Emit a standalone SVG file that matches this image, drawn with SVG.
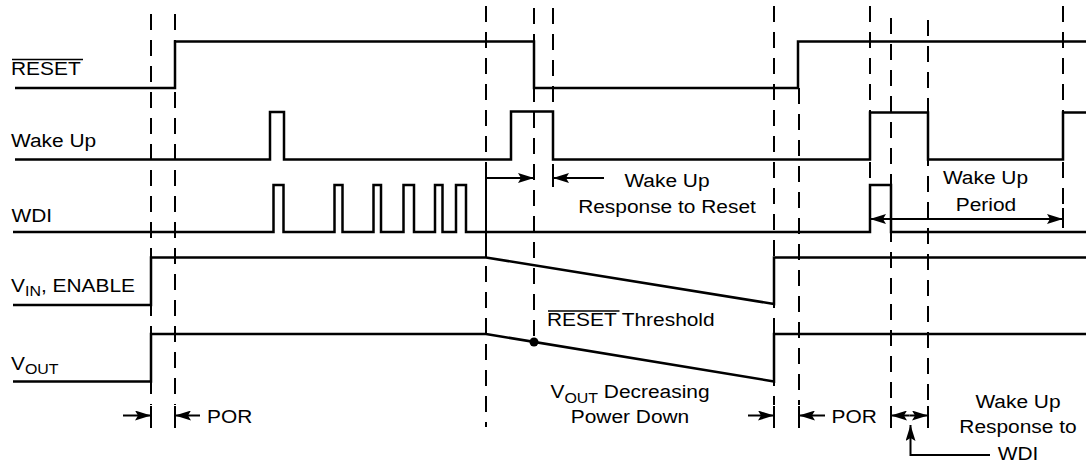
<svg xmlns="http://www.w3.org/2000/svg" width="1086" height="463" viewBox="0 0 1086 463">
<defs>
<marker id="ah" markerUnits="userSpaceOnUse" markerWidth="16" markerHeight="10" refX="16" refY="5" orient="auto-start-reverse"><path d="M0,0 L16,5 L0,10 L3,5 z" fill="#000"/></marker>
</defs>
<style>
.sig{fill:none;stroke:#000;stroke-width:2.5;stroke-linejoin:miter}
.dash{stroke:#000;stroke-width:2;stroke-dasharray:16 10}
.tick{stroke:#000;stroke-width:2}
.arr{fill:none;stroke:#000;stroke-width:2;marker-end:url(#ah)}
.arr2{fill:none;stroke:#000;stroke-width:2;marker-end:url(#ah);marker-start:url(#ah)}
.lbl{font-family:"Liberation Sans",Arial,Helvetica,sans-serif;font-size:19px;fill:#000}
.mid{text-anchor:middle}
.ov{stroke:#000;stroke-width:1.3}
</style>
<rect width="1086" height="463" fill="#fff"/>

<g id="guides">
<line class="dash" x1="151" y1="14" x2="151" y2="405"/>
<line class="dash" x1="175" y1="14" x2="175" y2="405"/>
<line class="dash" x1="486" y1="6" x2="486" y2="427"/>
<line class="dash" x1="534" y1="8" x2="534" y2="338"/>
<line class="dash" x1="553" y1="8" x2="553" y2="170"/>
<line class="dash" x1="774" y1="6" x2="774" y2="405"/>
<line class="dash" x1="799" y1="88" x2="799" y2="405"/>
<line class="dash" x1="870" y1="6" x2="870" y2="232"/>
<line class="dash" x1="891" y1="18" x2="891" y2="405"/>
<line class="dash" x1="928" y1="20" x2="928" y2="405"/>
<line class="dash" x1="1063" y1="6" x2="1063" y2="210"/>
<line class="tick" x1="151" y1="406" x2="151" y2="428"/>
<line class="tick" x1="175" y1="406" x2="175" y2="428"/>
<line class="tick" x1="774" y1="406" x2="774" y2="428"/>
<line class="tick" x1="799" y1="406" x2="799" y2="428"/>
<line class="tick" x1="891" y1="406" x2="891" y2="428"/>
<line class="tick" x1="928" y1="406" x2="928" y2="428"/>
<line class="tick" x1="553" y1="168" x2="553" y2="187"/>
<line class="tick" x1="1063" y1="208" x2="1063" y2="228"/>
</g>

<g id="sig-reset">
<path class="sig" d="M15,88 H175 V41.5 H534 V88 H798 V41.5 H1086"/>
<text class="lbl" transform="translate(11 75) scale(1.1 1)">RESET</text>
<line class="ov" x1="12" y1="59.5" x2="83" y2="59.5"/>
</g>

<g id="sig-wakeup">
<path class="sig" d="M15,159.5 H270 V112 H284 V159.5 H511 V111.5 H553 V159.5 H870 V112.5 H928 V159.5 H1063 V112.5 H1086"/>
<text class="lbl" transform="translate(11 146.5) scale(1.1 1)">Wake Up</text>
</g>

<g id="sig-wdi">
<path class="sig" d="M13,232 H273.5 V185 H283.5 V232 H334.5 V185 H342.5 V232 H373.5 V185 H381 V232 H403.5 V185 H414 V232 H435 V185 H442.5 V232 H456 V185 H466 V232 H870 V185 H891 V232 H1086"/>
<text class="lbl" transform="translate(11.5 221.5) scale(1.1 1)">WDI</text>
</g>

<g id="sig-vin">
<path class="sig" d="M13,305 H151 V257.5 H486 L774,304 V257.5 H1086"/>
<text class="lbl" transform="translate(11 291.5) scale(1.1 1)">V<tspan font-size="14.5" dy="4.5">IN</tspan><tspan dy="-4.5">, ENABLE</tspan></text>
</g>

<g id="sig-vout">
<path class="sig" d="M13,381.5 H151 V334 H486 L774,381.5 V334 H1086"/>
<circle cx="534" cy="342" r="4.5" fill="#000"/>
<text class="lbl" transform="translate(11 369.5) scale(1.1 1)">V<tspan font-size="14.5" dy="4.5">OUT</tspan></text>
</g>

<g id="connectors">
<line class="arr" x1="123" y1="415.5" x2="151" y2="415.5"/>
<line class="arr" x1="200" y1="415.5" x2="175" y2="415.5"/>
<polyline class="tick" fill="none" points="486,257 486,178"/>
<polyline class="arr" points="486,178 534,178"/>
<line class="arr" x1="604" y1="178" x2="553" y2="178"/>
<line class="arr2" x1="870" y1="219" x2="1063" y2="219"/>
<line class="arr" x1="748" y1="415.5" x2="774" y2="415.5"/>
<line class="arr" x1="825" y1="415.5" x2="799" y2="415.5"/>
<line class="arr" x1="909.5" y1="415.5" x2="891" y2="415.5"/>
<line class="arr" x1="909.5" y1="415.5" x2="928" y2="415.5"/>
<polyline class="arr" points="990,455 910.5,455 910.5,425"/>
</g>

<g id="annotations">
<text class="lbl" transform="translate(207 422.5) scale(1.1 1)">POR</text>
<text class="lbl mid" transform="translate(667 186.5) scale(1.1 1)">Wake Up</text>
<text class="lbl mid" transform="translate(667 212.5) scale(1.1 1)">Response to Reset</text>
<text class="lbl" transform="translate(547 326) scale(1.1 1)">RESET Threshold</text>
<line class="ov" x1="548" y1="311" x2="619.5" y2="311"/>
<text class="lbl mid" transform="translate(630 398) scale(1.1 1)">V<tspan font-size="14.5" dy="4.5">OUT</tspan><tspan dy="-4.5"> Decreasing</tspan></text>
<text class="lbl mid" transform="translate(630 423) scale(1.1 1)">Power Down</text>
<text class="lbl" transform="translate(831.5 422.5) scale(1.1 1)">POR</text>
<text class="lbl mid" transform="translate(985.5 184) scale(1.1 1)">Wake Up</text>
<text class="lbl mid" transform="translate(986 210.5) scale(1.1 1)">Period</text>
<text class="lbl mid" transform="translate(1018 408) scale(1.1 1)">Wake Up</text>
<text class="lbl mid" transform="translate(1018 432.5) scale(1.1 1)">Response to</text>
<text class="lbl mid" transform="translate(1018 460) scale(1.1 1)">WDI</text>
</g>
</svg>
